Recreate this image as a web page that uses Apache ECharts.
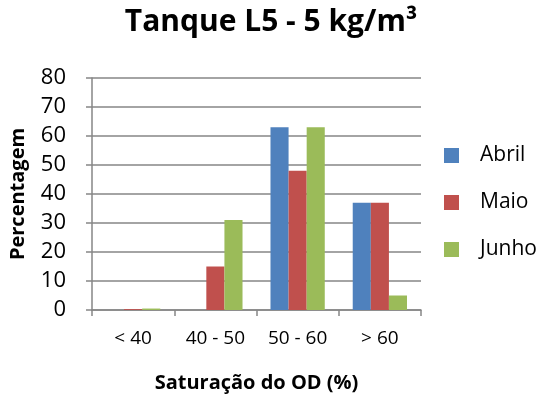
<!DOCTYPE html>
<html>
<head>
<meta charset="utf-8">
<script src="https://cdn.jsdelivr.net/npm/echarts@6/dist/echarts.min.js"></script>
<style>
  html, body { margin: 0; padding: 0; background: #fff; }
  #chart { width: 547px; height: 402px; }
</style>
</head>
<body>
<div id="chart"></div>
<script>
// dados
var categorias = ['< 40', '40 - 50', '50 - 60', '> 60'];
var abril = [0, 0, 63, 37];
var maio = [0.3, 15, 48, 37];
var junho = [0.5, 31, 63, 5];
var yTicks = [0, 10, 20, 30, 40, 50, 60, 70, 80];

var fonte = '"Open Sans", "Noto Sans", sans-serif';
var cinza = '#868686';

var myChart = echarts.init(document.getElementById('chart'));

var option = {
    animation: false,
    textStyle: { fontFamily: fonte },
    title: {
        text: 'Tanque L5 - 5 kg/m³',
        left: 266,
        top: 2,
        textAlign: 'center',
        textStyle: { fontSize: 30, fontWeight: 'bold', color: '#000', fontFamily: fonte }
    },
    legend: {
        orient: 'vertical',
        left: 439,
        top: 140,
        itemWidth: 15,
        itemHeight: 15,
        itemGap: 26,
        icon: 'rect',
        textStyle: { fontSize: 21, color: '#000', fontFamily: fonte, padding: [0, 0, 0, 16] },
        data: ['Abril', 'Maio', 'Junho']
    },
    grid: { left: 92, right: 126, top: 78, bottom: 92 },
    xAxis: {
        type: 'category',
        data: categorias,
        name: 'Saturação do OD (%)',
        nameLocation: 'middle',
        nameGap: 63,
        nameTextStyle: { fontSize: 20, fontWeight: 'bold', color: '#000' },
        axisLine: { lineStyle: { color: cinza, width: 1.5 } },
        axisTick: { show: true, length: 6, lineStyle: { color: cinza, width: 1.5 } },
        axisLabel: { fontSize: 19, color: '#000', margin: 19, interval: 0, hideOverlap: false }
    },
    yAxis: {
        type: 'value',
        min: yTicks[0],
        max: yTicks[yTicks.length - 1],
        interval: 10,
        name: 'Percentagem',
        nameLocation: 'middle',
        nameGap: 64,
        nameTextStyle: { fontSize: 20, fontWeight: 'bold', color: '#000' },
        axisLine: { show: true, lineStyle: { color: cinza, width: 1.5 } },
        axisTick: { show: true, length: 6, lineStyle: { color: cinza, width: 1.5 } },
        axisLabel: { fontSize: 22, color: '#000', margin: 26 },
        splitLine: { lineStyle: { color: cinza, width: 1.5 } }
    },
    series: [
        { name: 'Abril', type: 'bar', data: abril, itemStyle: { color: '#4F81BD' }, barGap: '0%', barCategoryGap: '34%' },
        { name: 'Maio', type: 'bar', data: maio, itemStyle: { color: '#C0504D' } },
        { name: 'Junho', type: 'bar', data: junho, itemStyle: { color: '#9BBB59' } }
    ]
};

myChart.setOption(option);
</script>
</body>
</html>
